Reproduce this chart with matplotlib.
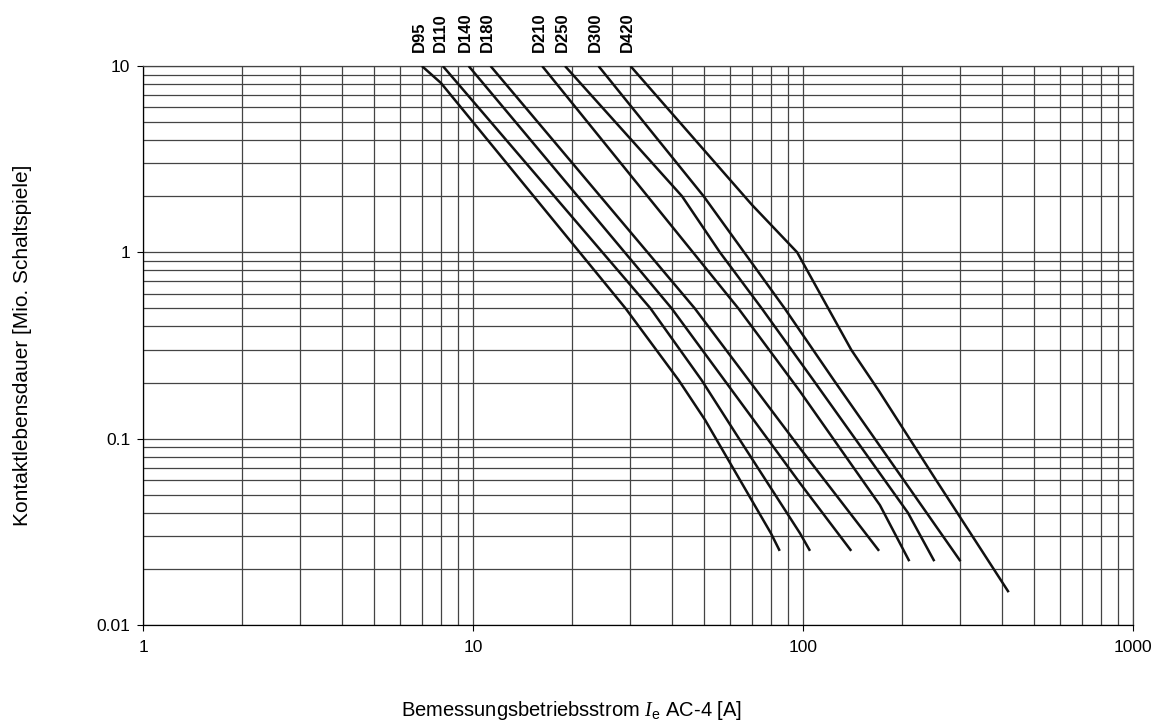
import matplotlib

matplotlib.use("Agg")
import matplotlib.pyplot as plt
from matplotlib.ticker import FixedLocator, FuncFormatter, NullFormatter

plt.rcParams["font.family"] = ["Liberation Sans", "DejaVu Sans"]
plt.rcParams["mathtext.fontset"] = "custom"
plt.rcParams["mathtext.rm"] = "Liberation Sans"
plt.rcParams["mathtext.it"] = "Liberation Serif:italic"

# contactor types and their curves (current in A, life in million operations)
names = ["D95", "D110", "D140", "D180", "D210", "D250", "D300", "D420"]

d95_i = [7, 8, 29, 42, 50.5, 80, 85]
d95_n = [10, 8.1, 0.5, 0.206, 0.126, 0.031, 0.025]
d110_i = [8.1, 34.5, 49.3, 64, 98, 105]
d110_n = [10, 0.5, 0.206, 0.1, 0.031, 0.025]
d140_i = [9.7, 40, 78, 98, 140]
d140_n = [10, 0.5, 0.1, 0.0576, 0.025]
d180_i = [11.3, 47, 98, 170]
d180_n = [10, 0.5, 0.0887, 0.025]
d210_i = [16.2, 63.7, 98, 171, 210]
d210_n = [10, 0.5, 0.179, 0.044, 0.022]
d250_i = [19, 43, 56, 75, 107.5, 208, 250]
d250_n = [10, 2.0, 1.0, 0.5, 0.206, 0.04, 0.022]
d300_i = [24, 50, 88, 124, 300]
d300_n = [10, 2.0, 0.5, 0.206, 0.022]
d420_i = [30, 70, 96, 140, 170, 250, 420]
d420_n = [10, 1.8, 1.0, 0.3, 0.18, 0.062, 0.015]

currents = [d95_i, d110_i, d140_i, d180_i, d210_i, d250_i, d300_i, d420_i]
lifes = [d95_n, d110_n, d140_n, d180_n, d210_n, d250_n, d300_n, d420_n]

x_ticks = [1, 10, 100, 1000]
y_ticks = [0.01, 0.1, 1, 10]

fig = plt.figure(figsize=(11.53, 7.22), dpi=100)
ax = fig.add_axes([143 / 1153, 1 - 625 / 722, 990 / 1153, 559 / 722])
ax.set_xscale("log")
ax.set_yscale("log")
ax.set_xlim(1, 1000)
ax.set_ylim(0.01, 10)

grid_c = "#444444"
ax.grid(True, which="both", color=grid_c, linewidth=0.9)
ax.set_axisbelow(True)
for s in ax.spines.values():
    s.set_color(grid_c)
    s.set_linewidth(0.9)
ax.spines["left"].set_color("black")
ax.spines["bottom"].set_color("black")

for name, xi, yi in zip(names, currents, lifes):
    ax.plot(xi, yi, color="#111111", linewidth=1.8, solid_capstyle="butt",
            zorder=3)
    ax.annotate(name, xy=(xi[0], yi[0]), xytext=(-2, 10),
                textcoords="offset points", rotation=90, ha="center",
                va="bottom", fontsize=12, fontweight="bold",
                annotation_clip=False)

ax.xaxis.set_major_locator(FixedLocator(x_ticks))
ax.yaxis.set_major_locator(FixedLocator(y_ticks))
fmt = FuncFormatter(lambda v, p: f"{v:g}")
ax.xaxis.set_major_formatter(fmt)
ax.yaxis.set_major_formatter(fmt)
ax.xaxis.set_minor_formatter(NullFormatter())
ax.yaxis.set_minor_formatter(NullFormatter())
ax.tick_params(which="major", length=4, width=0.8, labelsize=12.5)
ax.tick_params(axis="x", which="major", pad=7)
ax.tick_params(axis="y", which="major", pad=5)
ax.tick_params(which="minor", length=0)
ax.tick_params(top=False, right=False)

fig.text(23 / 1153, 1 - 345 / 722, "Kontaktlebensdauer [Mio. Schaltspiele]",
         rotation=90, ha="center", va="center", fontsize=15)
fig.text(572 / 1153, 1 - 710 / 722,
         r"Bemessungsbetriebsstrom $I_{\mathrm{e}}$ AC-4 [A]",
         ha="center", va="center", fontsize=14.5)

fig.savefig("out.png", dpi=100)
